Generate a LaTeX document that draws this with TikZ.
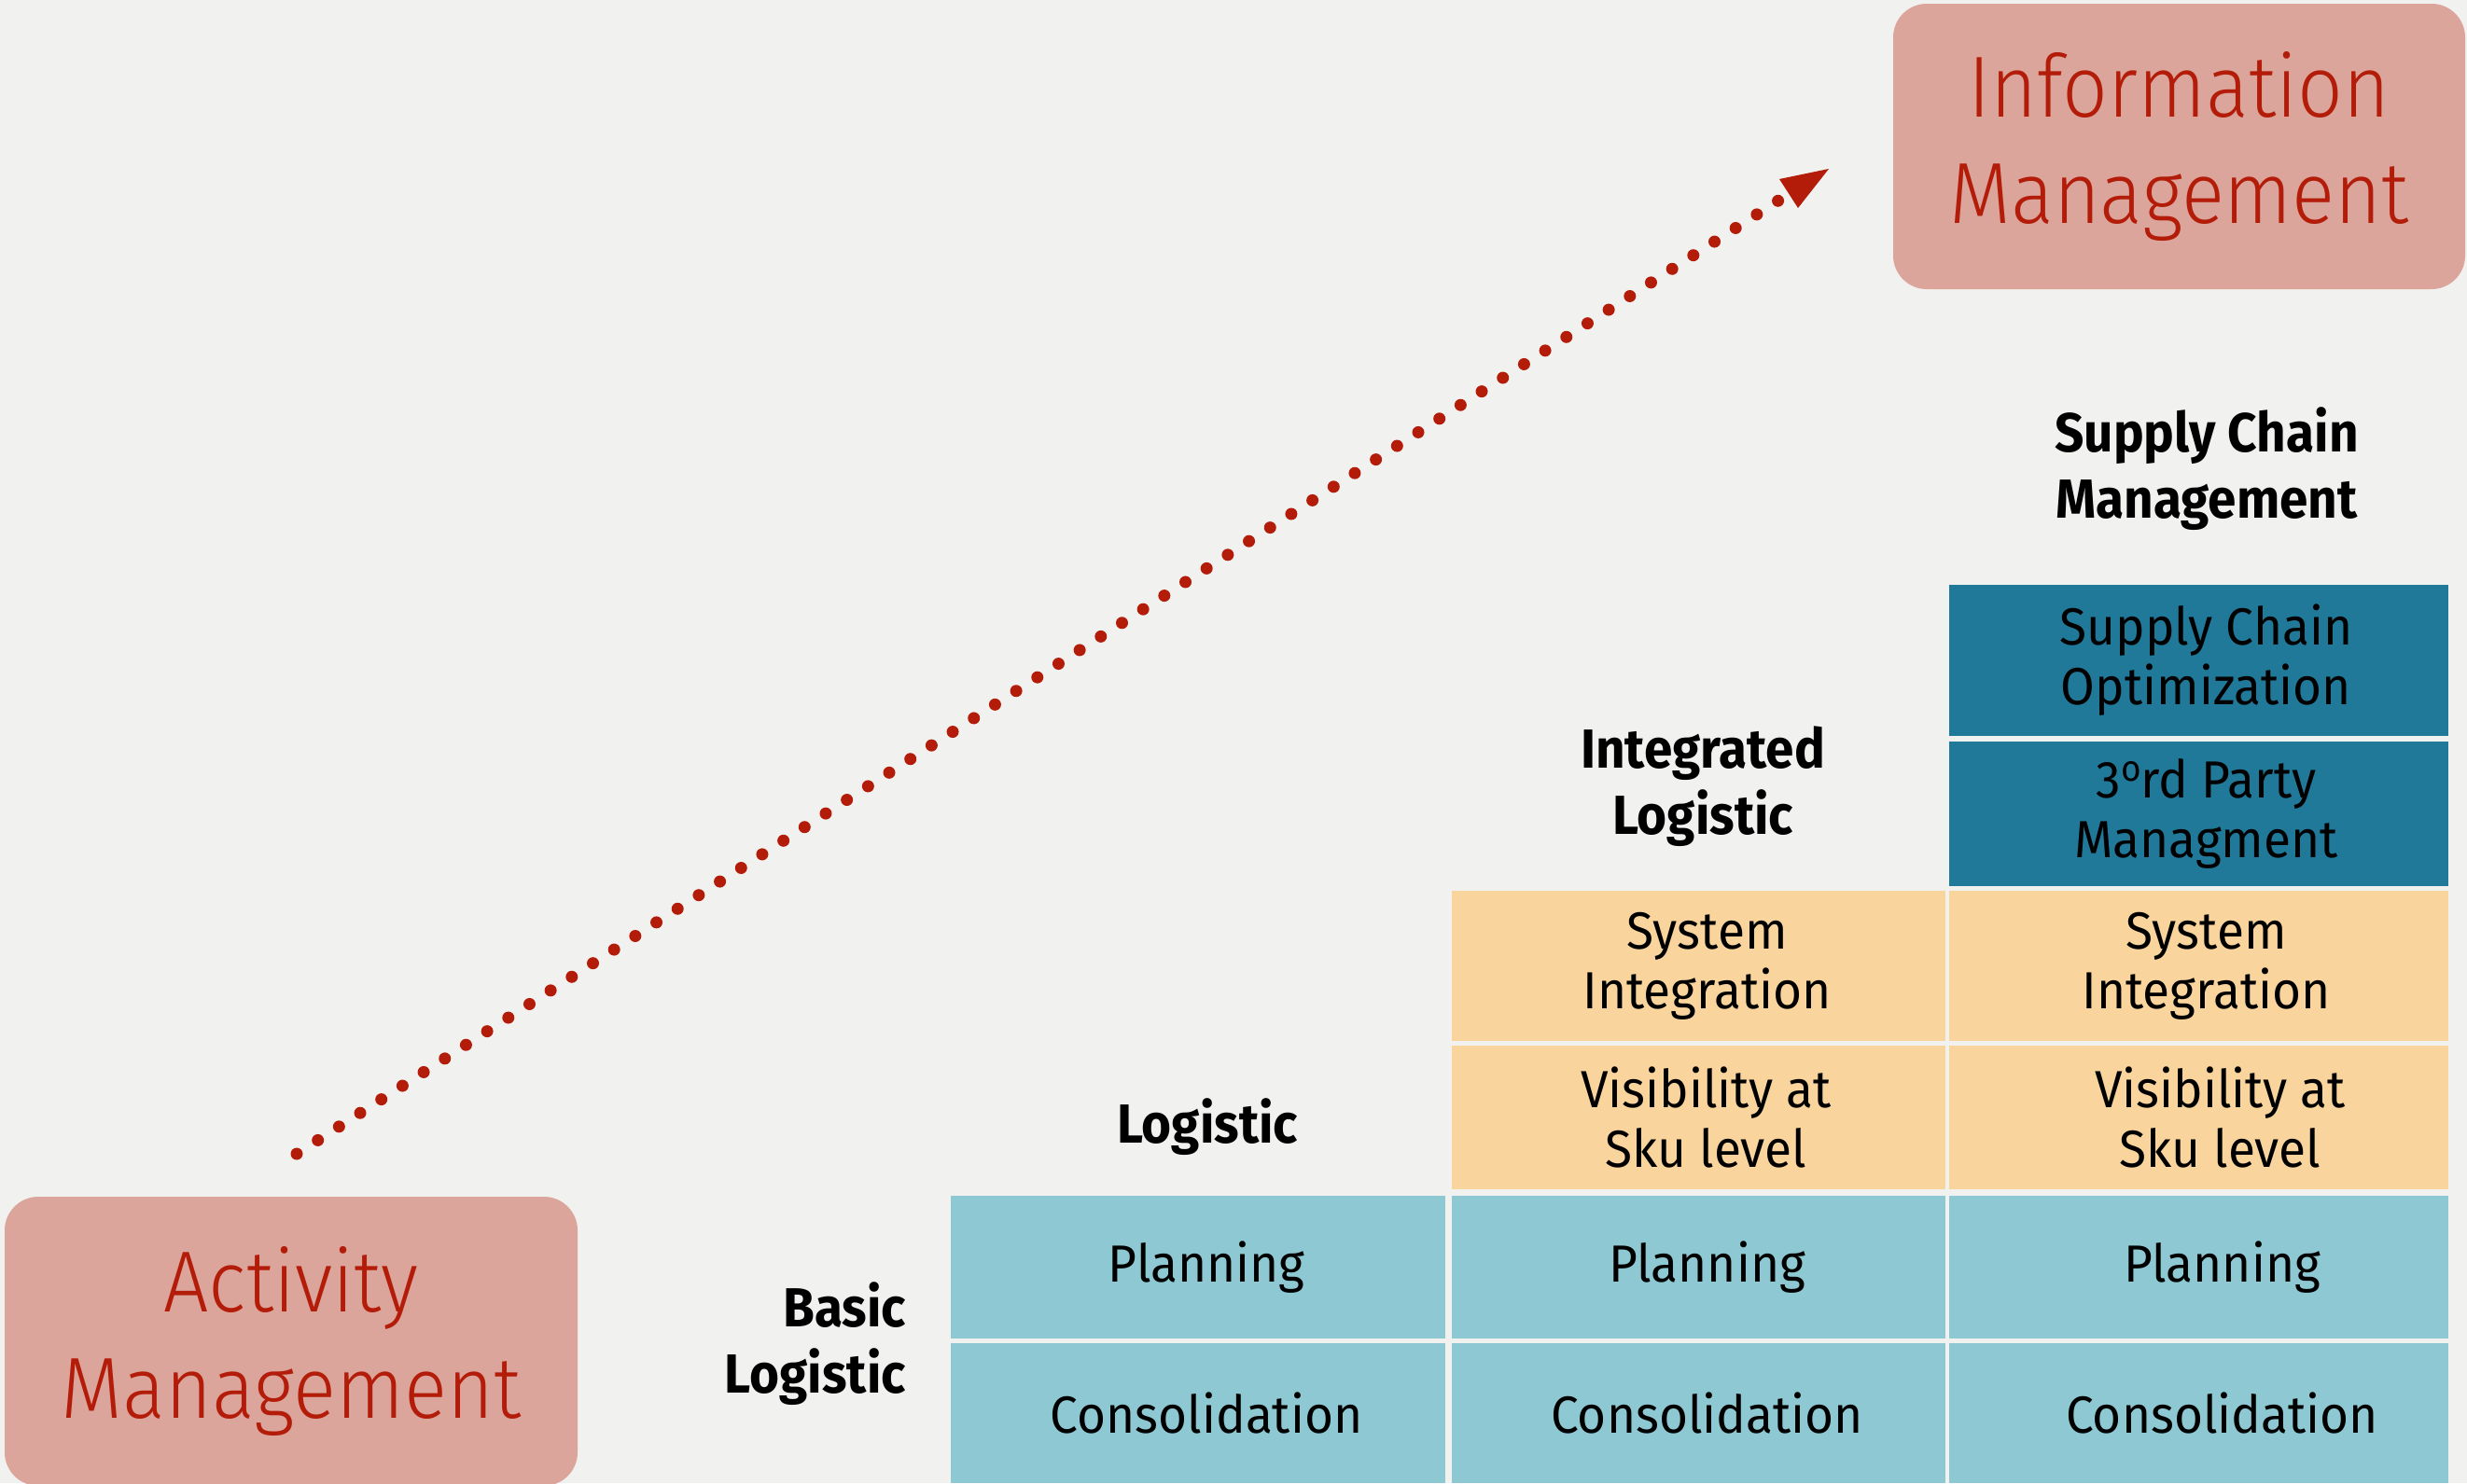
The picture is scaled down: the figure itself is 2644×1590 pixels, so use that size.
\documentclass[tikz,border=0pt]{standalone}
\usepackage{fontspec}
\setmainfont{Fira Sans}
\newfontfamily\cellfont{Fira Sans}[FakeStretch=0.95]
\newfontfamily\headfont{Fira Sans Bold}[FakeStretch=0.93]
\newfontfamily\bigfont{Fira Sans Light}[FakeStretch=0.92]
\definecolor{bgc}{HTML}{F1F1EF}
\definecolor{pinkbox}{HTML}{DBA59B}
\definecolor{redtxt}{HTML}{B41C0A}
\definecolor{tealc}{HTML}{21799A}
\definecolor{orangec}{HTML}{F9D49D}
\definecolor{lblue}{HTML}{8EC8D3}
\begin{document}
\begin{tikzpicture}[x=1pt,y=-1pt,
  cellbox/.style={inner sep=0pt,outer sep=0pt,anchor=north west,draw=none},
  celltext/.style={inner sep=0pt,align=center,font=\cellfont\fontsize{56}{64}\selectfont,text=black},
  headtext/.style={inner sep=0pt,align=center,font=\headfont\fontsize{59}{71}\selectfont,text=black},
  bigbox/.style={fill=pinkbox,rounded corners=36pt,inner sep=0pt,outer sep=0pt,anchor=north west,align=center,text=redtxt,font=\bigfont\fontsize{93}{114}\selectfont},
  dotline/.style={draw=redtxt,line width=13pt,line cap=round,dash pattern=on 0pt off 26.97pt}
]
\fill[bgc] (0,0) rectangle (2644,1590);
\useasboundingbox (0,0) rectangle (2644,1590);

% big boxes
\node[bigbox,minimum width=613pt,minimum height=306pt] (info) at (2029,4) {Information\\Management};
\node[bigbox,minimum width=614pt,minimum height=310pt] (act) at (5,1283) {Activity\\Management};

% dotted arrow
\coordinate (arS) at (318,1237);
\coordinate (arE) at (1906,215);
\coordinate (tipA) at (1960,181);
\coordinate (tipB) at (1907,192);
\coordinate (tipC) at (1927,223);
\draw[dotline] (arS) -- (arE);
\fill[redtxt] (tipA) -- (tipB) -- (tipC) -- cycle;

% cells: light blue
\node[cellbox,fill=lblue,minimum width=530pt,minimum height=153pt] (p1) at (1019,1282) {};
\node[cellbox,fill=lblue,minimum width=529pt,minimum height=153pt] (p2) at (1556,1282) {};
\node[cellbox,fill=lblue,minimum width=535pt,minimum height=153pt] (p3) at (2089,1282) {};
\node[cellbox,fill=lblue,minimum width=530pt,minimum height=150pt] (k1) at (1019,1440) {};
\node[cellbox,fill=lblue,minimum width=529pt,minimum height=150pt] (k2) at (1556,1440) {};
\node[cellbox,fill=lblue,minimum width=535pt,minimum height=150pt] (k3) at (2089,1440) {};
% cells: orange
\node[cellbox,fill=orangec,minimum width=529pt,minimum height=161pt] (s2) at (1556,955) {};
\node[cellbox,fill=orangec,minimum width=535pt,minimum height=161pt] (s3) at (2089,955) {};
\node[cellbox,fill=orangec,minimum width=529pt,minimum height=154pt] (v2) at (1556,1121) {};
\node[cellbox,fill=orangec,minimum width=535pt,minimum height=154pt] (v3) at (2089,1121) {};
% cells: teal
\node[cellbox,fill=tealc,minimum width=535pt,minimum height=162pt] (o3) at (2089,627) {};
\node[cellbox,fill=tealc,minimum width=535pt,minimum height=155pt] (m3) at (2089,795) {};

% cell texts
\node[celltext] (tp1) at ([xshift=9pt]p1.center) {Planning};
\node[celltext] (tp2) at ([xshift=9pt]p2.center) {Planning};
\node[celltext] (tp3) at ([xshift=25pt]p3.center) {Planning};
\node[celltext] (tk1) at ([xshift=9pt]k1.center) {Consolidation};
\node[celltext] (tk2) at ([xshift=9pt]k2.center) {Consolidation};
\node[celltext] (tk3) at ([xshift=25pt]k3.center) {Consolidation};
\node[celltext] (ts2) at ([xshift=9pt]s2.center) {System\\Integration};
\node[celltext] (ts3) at ([xshift=8pt]s3.center) {System\\Integration};
\node[celltext] (tv2) at ([xshift=8pt]v2.center) {Visibility at\\Sku level};
\node[celltext] (tv3) at ([xshift=23pt]v3.center) {Visibility at\\Sku level};
\node[celltext] (to3) at ([xshift=8pt]o3.center) {Supply Chain\\Optimization};
\node[celltext] (tm3) at ([xshift=8pt]m3.center) {3\raisebox{18pt}{\fontsize{39}{39}\selectfont o}rd Party\\Managment};

% headings
\node[headtext] (hscm) at (2365,503) {Supply Chain\\Management};
\node[headtext] (hil) at (1825,843) {Integrated\\Logistic};
\node[headtext] (hl) at (1294,1208) {Logistic};
\node[headtext,align=right,anchor=east] (hbl) at (971,1441) {Basic\\Logistic};
\end{tikzpicture}
\end{document}
